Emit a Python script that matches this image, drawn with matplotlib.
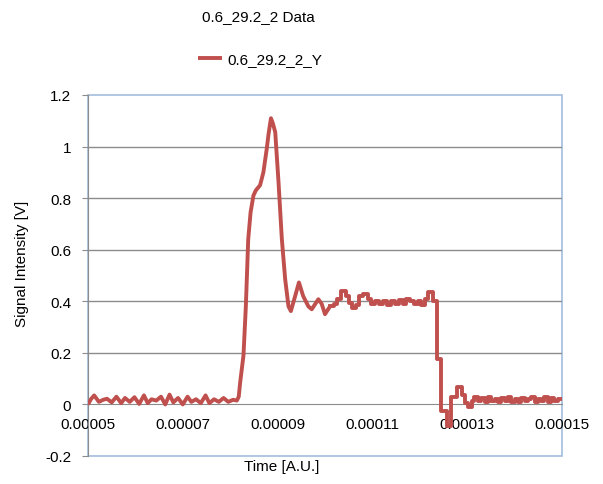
import matplotlib
matplotlib.use("Agg")
import matplotlib.pyplot as plt
import numpy as np
from matplotlib.patches import Rectangle

plt.rcParams['font.family'] = ['Liberation Sans', 'DejaVu Sans']

title = "0.6_29.2_2 Data"
series_name = "0.6_29.2_2_Y"

# smooth part of the trace (time in microseconds, signal in V)
t_smooth = [50.0, 50.6, 51.3, 52.3, 53.2, 54.0, 55.0, 56.0, 57.0, 57.8, 58.8, 59.8,
            60.8, 61.8, 62.6, 63.4, 64.4, 65.4, 66.3, 67.2, 68.0, 69.0, 70.0, 71.0,
            71.8, 72.8, 73.8, 74.8, 75.6, 76.6, 77.6, 78.6, 79.6, 80.6, 81.4,
            81.8, 82.1, 82.8, 83.3, 83.8, 84.3, 84.9, 85.4, 86.3, 87.0, 87.7, 88.1,
            88.6, 89.0, 89.5, 90.2, 90.9, 91.6, 92.3, 92.8, 93.7, 94.5, 95.4, 96.5,
            97.2, 98.6, 99.3, 100.0, 101.05]
v_smooth = [0.0, 0.02, 0.035, 0.01, 0.018, 0.022, 0.008, 0.03, 0.005, 0.025, 0.01, 0.028,
            0.002, 0.035, 0.005, 0.02, 0.015, 0.03, 0.0, 0.038, 0.008, 0.025, 0.0, 0.03,
            0.01, 0.02, 0.005, 0.035, 0.005, 0.02, 0.01, 0.025, 0.01, 0.018, 0.015,
            0.03, 0.085, 0.19, 0.38, 0.64, 0.745, 0.81, 0.83, 0.85, 0.90, 0.99, 1.05,
            1.11, 1.09, 1.056, 0.86, 0.64, 0.485, 0.38, 0.362, 0.42, 0.473, 0.42, 0.38,
            0.369, 0.408, 0.39, 0.35, 0.38]

# digitised (stepped) part of the trace
t_step = [101.05, 101.9, 102.53, 103.38, 104.43, 105.06, 105.7, 106.54, 107.17, 108.02,
          109.07, 109.7, 110.55, 111.39, 112.24, 113.08, 113.92, 114.77, 115.61, 116.46,
          117.09, 117.93, 118.78, 119.62, 120.25, 121.1, 121.73, 122.78, 123.63, 124.47,
          125.74, 126.58, 127.85, 128.9, 129.54, 130.17, 131.01, 131.43, 132.28,
          133.0, 133.7, 134.4, 135.1, 135.8, 136.5, 137.2, 137.9, 138.6, 139.3, 140.0,
          140.7, 141.4, 142.1, 142.8, 143.5, 144.2, 144.9, 145.6, 146.3, 147.0, 147.7,
          148.4, 149.1, 150.0]
v_step = [0.38, 0.39, 0.41, 0.44, 0.42, 0.395, 0.375, 0.385, 0.42, 0.43,
          0.41, 0.39, 0.40, 0.39, 0.40, 0.385, 0.40, 0.39, 0.405, 0.39,
          0.41, 0.40, 0.39, 0.40, 0.385, 0.41, 0.435, 0.40, 0.175, -0.026,
          -0.084, 0.03, 0.068, 0.035, 0.005, -0.01, 0.015, 0.03, 0.015,
          0.025, 0.01, 0.03, 0.015, 0.02, 0.01, 0.025, 0.015, 0.03, 0.01, 0.02,
          0.01, 0.025, 0.015, 0.02, 0.03, 0.01, 0.02, 0.015, 0.03, 0.01, 0.025,
          0.015, 0.02, 0.02]

x_ticks = [0.00005, 0.00007, 0.00009, 0.00011, 0.00013, 0.00015]
y_ticks = [-0.2, 0, 0.2, 0.4, 0.6, 0.8, 1.0, 1.2]

red = '#C0504D'
grid_gray = '#8C8C8C'
frame_blue = '#A3BEDD'

fig = plt.figure(figsize=(6.03, 4.85), dpi=100)
ax = fig.add_axes([88 / 603, 1 - 457 / 485, (562 - 88) / 603, (457 - 96) / 485])

ts = np.array(t_smooth) * 1e-6
tp = np.array(t_step) * 1e-6
line, = ax.plot(ts, v_smooth, color=red, lw=2.8, solid_joinstyle='round',
                solid_capstyle='butt', zorder=3)
ax.plot(tp, v_step, color=red, lw=2.8, drawstyle='steps-post', zorder=3)

ax.set_xlim(0.00005, 0.00015)
ax.set_ylim(-0.2, 1.2)
ax.set_xticks(x_ticks)
ax.set_xticklabels([f"{x:.5f}" for x in x_ticks])
ax.set_yticks(y_ticks)
ax.set_yticklabels([f"{round(y, 1):g}" for y in y_ticks])

for y in y_ticks[2:-1]:
    ax.axhline(y, color=grid_gray, lw=1, zorder=1)

ax.spines['top'].set_visible(False)
ax.spines['right'].set_visible(False)
ax.spines['bottom'].set_position(('data', 0))
ax.spines['bottom'].set_color(grid_gray)
ax.spines['left'].set_color(grid_gray)
ax.add_patch(Rectangle((0, 0), 1, 1, transform=ax.transAxes, fill=False,
                       edgecolor=frame_blue, lw=1.2, clip_on=False, zorder=0.5))

ax.tick_params(axis='y', direction='out', length=4, color=grid_gray, labelsize=11, pad=8)
ax.tick_params(axis='x', direction='out', length=0, labelsize=11, pad=9)

fig.text(258 / 603, 1 - 17 / 485, title, ha='center', va='center', fontsize=11)
fig.text(282 / 603, 1 - 467 / 485, "Time [A.U.]", ha='center', va='center', fontsize=11)
fig.text(22 / 603, 1 - 264 / 485, "Signal Intensity [V]", ha='center', va='center',
         rotation=90, fontsize=11)
fig.legend([line], [series_name], loc='center', bbox_to_anchor=(260 / 603, 1 - 60 / 485),
           frameon=False, fontsize=11, handlelength=1.6, handletextpad=0.3)

fig.savefig('out.png', dpi=100)
